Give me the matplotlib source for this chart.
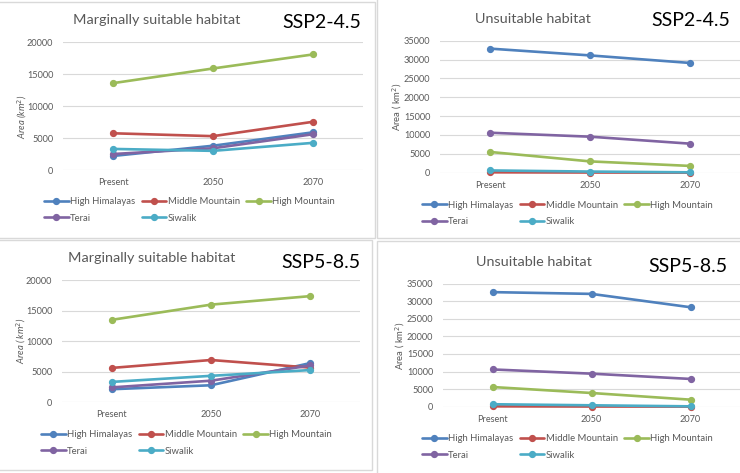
import matplotlib
matplotlib.use("Agg")
import matplotlib.pyplot as plt
from matplotlib.patches import Rectangle

plt.rcParams["font.family"] = ["Lato", "DejaVu Sans"]

W, H = 740, 473

periods = ["Present", "2050", "2070"]
regions = ["High Himalayas", "Middle Mountain", "High Mountain", "Terai", "Siwalik"]
colors = ["#4F81BD", "#C0504D", "#9BBB59", "#8064A2", "#4BACC6"]

# rows follow `regions`, columns follow `periods` (area, km2)
marginal_245 = [
    [2200, 3800, 5900],
    [5750, 5300, 7550],
    [13600, 15900, 18100],
    [2500, 3400, 5600],
    [3300, 3000, 4250],
]
unsuitable_245 = [
    [32900, 31100, 29100],
    [100, 50, 20],
    [5500, 3000, 1800],
    [10600, 9550, 7700],
    [600, 300, 100],
]
marginal_585 = [
    [2100, 2750, 6400],
    [5600, 6900, 5650],
    [13500, 16000, 17400],
    [2400, 3500, 6000],
    [3300, 4300, 5250],
]
unsuitable_585 = [
    [32600, 32100, 28300],
    [100, 50, 30],
    [5600, 3900, 2000],
    [10600, 9400, 7900],
    [700, 400, 100],
]

GREY = "#595959"
GRID = "#d9d9d9"


def fx(x):
    return x / W


def fy(y):
    return 1 - y / H


def panel(fig, data, box, ymax, ystep, title, title_xy, ssp, ssp_xy,
          ylabel, ylabel_xy, italic, legend_xy):
    x0, y0, x1, y1 = box  # pixel coords of the plot area
    ax = fig.add_axes([fx(x0), fy(y1), (x1 - x0) / W, (y1 - y0) / H])
    for vals, name, c in zip(data, regions, colors):
        ax.plot(range(len(periods)), vals, "-o", color=c, lw=1.9, ms=4.2,
                label=name, solid_capstyle="round", clip_on=False)
    ax.set_xlim(-0.5, len(periods) - 0.5)
    ax.set_ylim(0, ymax)
    ax.set_yticks(range(0, ymax + 1, ystep))
    ax.set_xticks(range(len(periods)))
    ax.set_xticklabels(periods)
    ax.tick_params(length=0, labelsize=6.6, labelcolor=GREY)
    ax.tick_params(axis="y", pad=7)
    ax.tick_params(axis="x", pad=6)
    ax.grid(axis="y", color=GRID, lw=0.8)
    ax.set_axisbelow(True)
    for s in ax.spines.values():
        s.set_visible(False)
    ax.patch.set_alpha(0)

    fig.text(fx(title_xy[0]), fy(title_xy[1]), title, ha="center", va="center",
             fontsize=10.4, color=GREY)
    fig.text(fx(ssp_xy[0]), fy(ssp_xy[1]), ssp, ha="center", va="center",
             fontsize=14, color="black")
    fig.text(fx(ylabel_xy[0]), fy(ylabel_xy[1]), ylabel, ha="center",
             va="center", rotation=90, fontsize=6.8, color=GREY,
             style="italic" if italic else "normal")

    h, l = ax.get_legend_handles_labels()
    order = [0, 3, 1, 4, 2]
    ax.legend([h[i] for i in order], [l[i] for i in order], ncol=3,
              loc="upper left", bbox_to_anchor=(fx(legend_xy[0]), fy(legend_xy[1])),
              bbox_transform=fig.transFigure, frameon=False, fontsize=6.8,
              labelcolor=GREY, handlelength=2.6, handletextpad=0.15,
              columnspacing=0.7, labelspacing=0.8, borderpad=0,
              borderaxespad=0)
    return ax


fig = plt.figure(figsize=(W / 100, H / 100), dpi=100)

# light grey chart borders
for bx0, by0, bx1, by1 in [(-2, 2, 375.5, 238), (377.5, -2, 742, 238),
                           (-2, 240, 371.5, 469.5), (377.5, 241, 742, 475)]:
    fig.patches.append(Rectangle((fx(bx0), fy(by1)), (bx1 - bx0) / W,
                                 (by1 - by0) / H, transform=fig.transFigure,
                                 fill=False, edgecolor=GRID, lw=1))

panel(fig, marginal_245, (63, 42.3, 363, 170), 20000, 5000,
      "Marginally suitable habitat", (157, 20), "SSP2-4.5", (322, 22.5),
      "Area (km$^2$)", (22, 117), True, (44, 197))
panel(fig, unsuitable_245, (440, 40.7, 740, 172.7), 35000, 5000,
      "Unsuitable habitat", (533, 19), "SSP2-4.5", (691, 20.5),
      "Area ( km$^2$)", (397, 107), False, (422, 200.5))
panel(fig, marginal_585, (62, 280.3, 360, 402), 20000, 5000,
      "Marginally suitable habitat", (152, 258.5), "SSP5-8.5", (321, 262.5),
      "Area ( km$^2$)", (21, 341), True, (41, 430))
panel(fig, unsuitable_585, (443, 283.7, 740, 406.7), 35000, 5000,
      "Unsuitable habitat", (534, 262), "SSP5-8.5", (688, 266),
      "Area ( km$^2$)", (400, 346), False, (422, 434))

fig.savefig("out.png", dpi=100)
